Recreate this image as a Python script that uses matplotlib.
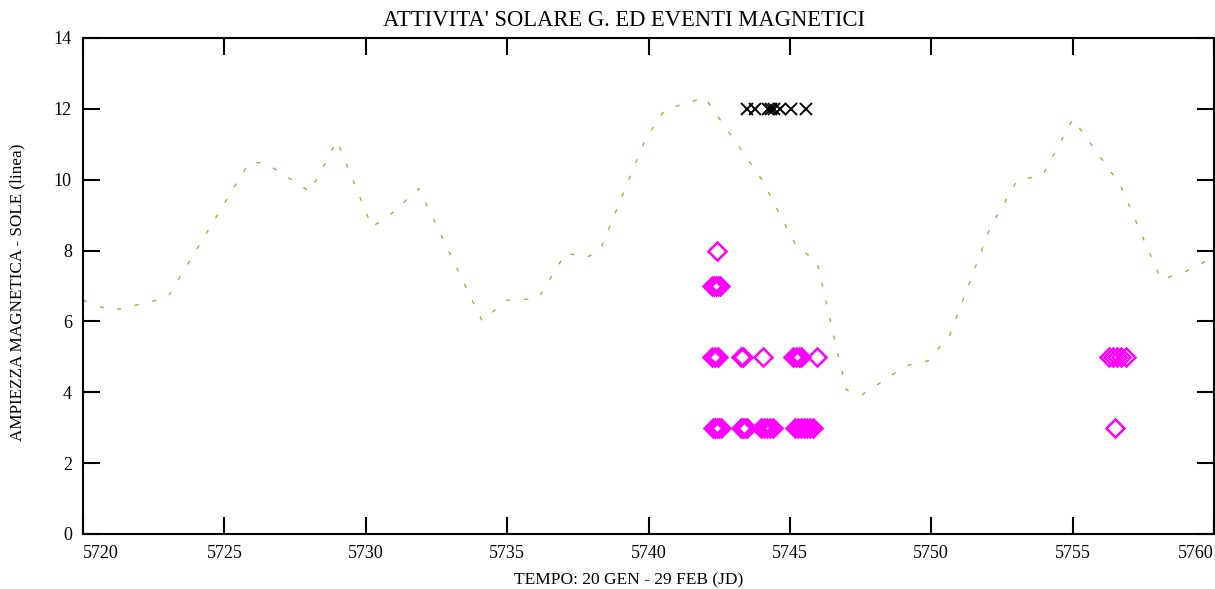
import matplotlib
matplotlib.use("Agg")
import matplotlib.pyplot as plt

plt.rcParams['font.family'] = ['Liberation Serif', 'DejaVu Serif']

# solar activity curve (dashed line)
sole_jd = [5720.00, 5720.99, 5722.37, 5723.01, 5725.87, 5726.44, 5728.03, 5728.98,
           5730.22, 5730.82, 5731.88, 5734.11, 5735.00, 5736.09, 5737.08, 5737.79,
           5738.28, 5739.88, 5740.58, 5741.99, 5744.01, 5745.22, 5745.96, 5746.99,
           5747.55, 5749.11, 5749.89, 5750.66, 5752.08, 5753.03, 5753.95, 5755.01,
           5756.68, 5758.13, 5758.98, 5760.00]
sole_amp = [6.6, 6.3, 6.55, 6.7, 10.48, 10.48, 9.66, 11.1,
            8.67, 8.98, 9.75, 6.02, 6.6, 6.64, 7.94, 7.8,
            8.0, 11.13, 11.98, 12.32, 10.0, 8.14, 7.68, 4.07,
            3.93, 4.75, 4.89, 5.62, 8.64, 9.97, 10.14, 11.72,
            9.86, 7.18, 7.4, 7.82]

# magnetic events (magenta diamonds)
ev_jd = ([5742.42] +
         [5742.25, 5742.32, 5742.39, 5742.46, 5742.53] +
         [5742.25, 5742.35, 5742.46, 5743.27, 5743.34, 5744.05,
          5745.11, 5745.22, 5745.32, 5745.39, 5745.96,
          5756.29, 5756.43, 5756.57, 5756.71, 5756.89] +
         [5742.29, 5742.36, 5742.43, 5742.50, 5742.57,
          5743.27, 5743.34, 5743.41, 5743.48,
          5743.98, 5744.09, 5744.19, 5744.30, 5744.40,
          5745.18, 5745.29, 5745.39, 5745.50, 5745.61, 5745.71, 5745.82,
          5756.50])
ev_amp = [8] + [7] * 5 + [5] * 16 + [3] * 22

# strong events (black crosses)
x_jd = [5743.48, 5743.77, 5744.23, 5744.33, 5744.44, 5744.65, 5745.04, 5745.57]
x_amp = [12] * 8

xticks = [5720, 5725, 5730, 5735, 5740, 5745, 5750, 5755, 5760]
yticks = [0, 2, 4, 6, 8, 10, 12, 14]

fig = plt.figure(figsize=(12.15, 5.89), dpi=100)
ax = fig.add_axes([83 / 1215, 55 / 589, 1131 / 1215, 496 / 589])

ax.plot(sole_jd, sole_amp, color='#9cb533', linewidth=1.0, dashes=(3, 10))
ax.plot(ev_jd, ev_amp, linestyle='none', marker='D', markersize=8.8,
        markerfacecolor='none', markeredgecolor='#ff00ff', markeredgewidth=1.8)
ax.plot(x_jd, x_amp, linestyle='none', marker='x', markersize=8.5,
        color='black', markeredgewidth=1.4)

ax.set_xlim(5720, 5760)
ax.set_ylim(0, 14)
ax.set_xticks(xticks)
ax.set_yticks(yticks)
ax.tick_params(direction='in', length=12, width=1.5, top=True, right=True,
               labelsize=13, pad=8)
labels = ax.get_xticklabels()
labels[0].set_ha('left')
labels[-1].set_ha('right')
for sp in ax.spines.values():
    sp.set_linewidth(1.5)

fig.text(624 / 1215, 1 - 20 / 589, "ATTIVITA' SOLARE G. ED EVENTI MAGNETICI",
         ha='center', va='center', fontsize=16.3)
fig.text(629 / 1215, 1 - 580 / 589, "TEMPO: 20 GEN - 29 FEB (JD)",
         ha='center', va='center', fontsize=12.5)
fig.text(17 / 1215, 1 - 292 / 589, "AMPIEZZA MAGNETICA - SOLE (linea)",
         ha='center', va='center', rotation=90, fontsize=12.3)

fig.savefig("out.png", dpi=100)
